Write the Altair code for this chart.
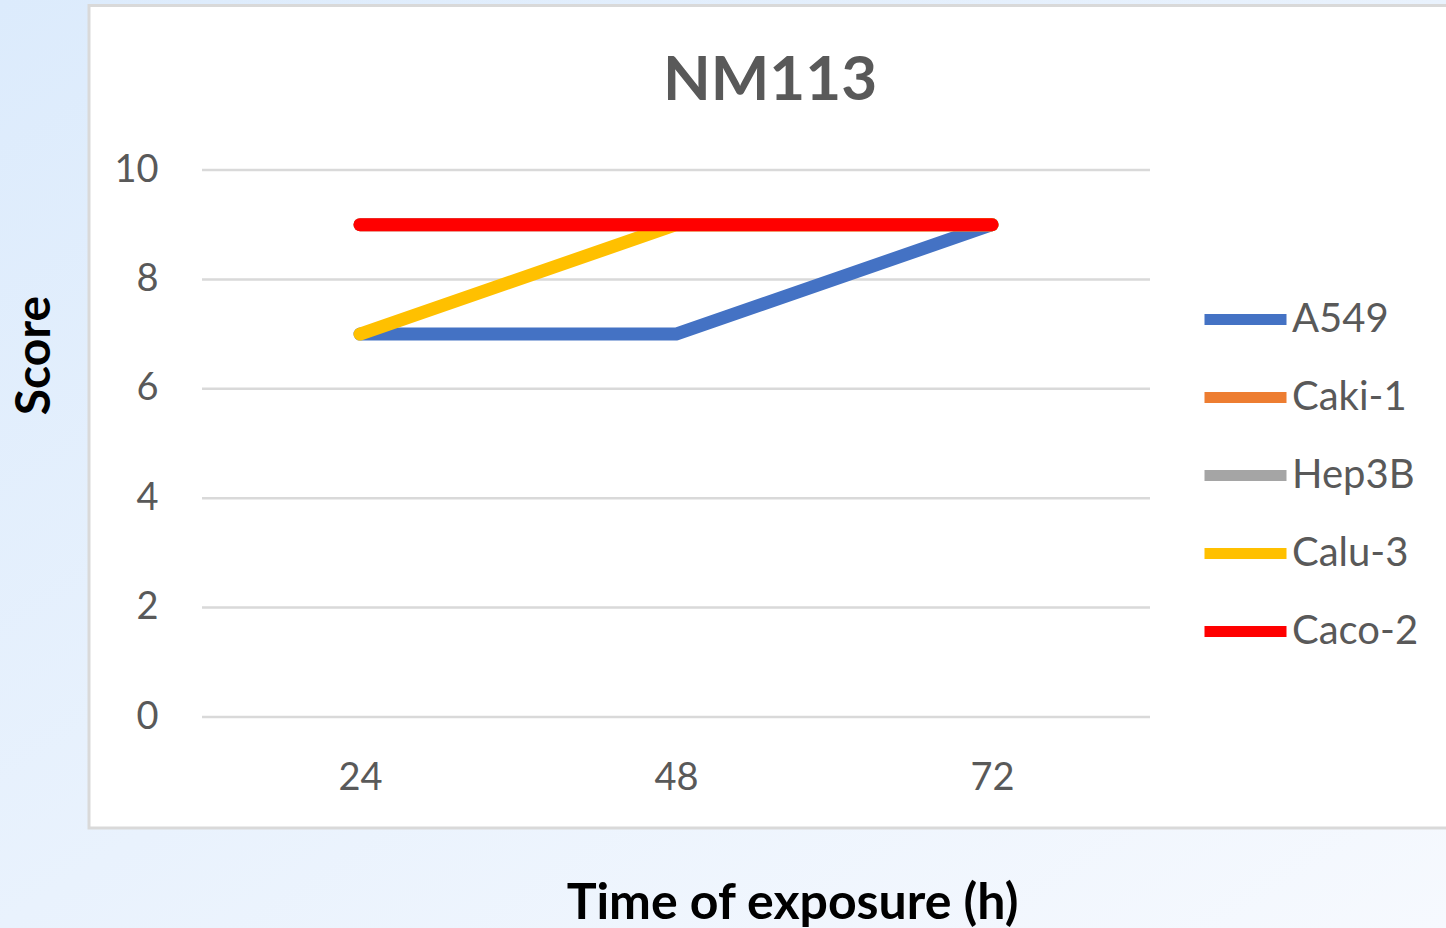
import altair as alt
import pandas as pd

hours = ["24", "48", "72"]
series = ["A549", "Caki-1", "Hep3B", "Calu-3", "Caco-2"]
colors = ["#4472C4", "#ED7D31", "#A5A5A5", "#FFC000", "#FF0000"]
a549 = [7, 7, 9]
caki1 = [9, 9, 9]
hep3b = [9, 9, 9]
calu3 = [7, 9, 9]
caco2 = [9, 9, 9]
y_ticks = [0, 2, 4, 6, 8, 10]
chart_title = "NM113"

values = [a549, caki1, hep3b, calu3, caco2]
rows = []
for name, vals in zip(series, values):
    for h, v in zip(hours, vals):
        rows.append({"Line": name, "Time": h, "Score": v})
df = pd.DataFrame(rows)
grid_df = pd.DataFrame({"Score": y_ticks})

FONT = "Lato"
W, H = 948, 547
yscale = alt.Scale(domain=[0, 10], nice=False)
yaxis = alt.Axis(title="Score", values=y_ticks, ticks=False, domain=False, grid=False,
                 labelPadding=44, labelFontSize=38,
                 labelColor="#595959", labelFont=FONT, titleFont=FONT, titleFontSize=48,
                 titleFontWeight="bold", titleColor="black", titleAngle=270,
                 titleX=-167, titleY=185, titleBaseline="middle", titleAlign="center",
                 zindex=1)

one = pd.DataFrame({"a": [0]})

bg = alt.Chart(one).mark_rect(
    fill=alt.Gradient(
        gradient="linear",
        stops=[alt.GradientStop(color="#dcebfc", offset=0),
               alt.GradientStop(color="#f6f9fe", offset=1)],
        x1=0, y1=0, x2=1, y2=1,
    )
).encode(x=alt.value(-202), x2=alt.value(1244), y=alt.value(-170), y2=alt.value(758))

panel = alt.Chart(one).mark_rect(
    fill="white", stroke="#d9d9d9", strokeWidth=3
).encode(x=alt.value(-113), x2=alt.value(1300), y=alt.value(-164.5), y2=alt.value(658))

title = alt.Chart(one).mark_text(
    font=FONT, fontSize=62, fontWeight="bold", color="#595959", align="center", baseline="middle"
).encode(x=alt.value(568), y=alt.value(-89), text=alt.value(chart_title))

grid = alt.Chart(grid_df).mark_rule(color="#d9d9d9", strokeWidth=2.5).encode(
    y=alt.Y("Score:Q", scale=yscale, axis=yaxis)
)

lines = alt.Chart(df).mark_line(strokeWidth=13, strokeCap="round", strokeJoin="round").encode(
    x=alt.X("Time:O", sort=hours,
            axis=alt.Axis(title="Time of exposure (h)", labelAngle=0, ticks=False, domain=False,
                          grid=False, labelPadding=42, labelFontSize=38, labelColor="#595959",
                          labelFont=FONT, titleFont=FONT, titleFontSize=50, titleFontWeight="bold",
                          titleColor="black", titleX=590, titleY=186, titleBaseline="middle",
                          titleAlign="center", zindex=1)),
    y=alt.Y("Score:Q", scale=yscale, axis=yaxis),
    color=alt.Color("Line:N", sort=series,
                    scale=alt.Scale(domain=series, range=colors),
                    legend=alt.Legend(title=None, orient="none", legendX=997, legendY=103,
                                      symbolType="stroke", symbolSize=6724, symbolStrokeWidth=11,
                                      labelFontSize=40, labelFont=FONT, labelColor="#595959",
                                      labelOffset=0, rowPadding=9)),
    order=alt.Order("Time:O"),
)

chart = alt.layer(bg, panel, title, grid, lines).properties(
    width=W, height=H,
    autosize=alt.AutoSizeParams(type="none"),
    padding={"left": 202, "top": 170, "right": 296, "bottom": 211},
    background="#eaf3fd",
).configure_view(stroke=None)

chart.save("out.html", embed_options={"renderer": "svg", "actions": False})
